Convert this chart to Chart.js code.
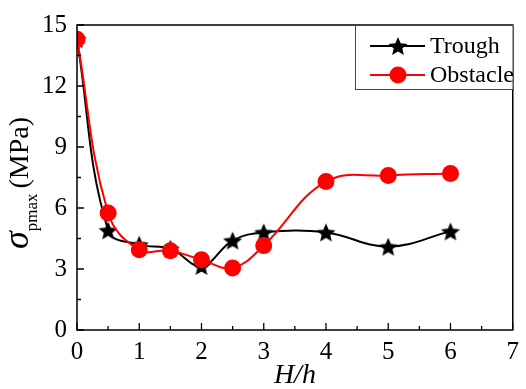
<!DOCTYPE html>
<html>
<head>
<meta charset="utf-8">
<script src="https://cdn.jsdelivr.net/npm/chart.js@4.4.0/dist/chart.umd.min.js"></script>
<style>
  html, body { margin: 0; padding: 0; background: #fff; }
  canvas { display: block; }
</style>
</head>
<body>
<canvas id="chart" width="526" height="389"></canvas>
<script>
// H/h values and sigma_pmax (MPa)
const hRatio = [0, 0.5, 1, 1.5, 2, 2.5, 3, 4, 5, 6];
const troughVals = [14.3, 4.9, 4.2, 4.0, 3.15, 4.4, 4.8, 4.8, 4.1, 4.85];
const obstacleVals = [14.3, 5.75, 3.95, 3.9, 3.45, 3.05, 4.15, 7.3, 7.6, 7.7];
const xTickVals = [0, 1, 2, 3, 4, 5, 6, 7];
const yTickVals = [0, 3, 6, 9, 12, 15];
const seriesNames = ['Trough', 'Obstacle'];

const SERIF = "'Liberation Serif', 'Times New Roman', serif";

function makeStar(size, color) {
    const c = document.createElement('canvas');
    c.width = size; c.height = size;
    const ctx = c.getContext('2d');
    const cx = size / 2, cy = size / 2 + size * 0.05;
    const outer = size / 2, inner = outer * 0.45;
    ctx.beginPath();
    for (let i = 0; i < 10; i++) {
        const r = i % 2 === 0 ? outer : inner;
        const a = -Math.PI / 2 + i * Math.PI / 5;
        ctx.lineTo(cx + r * Math.cos(a), cy + r * Math.sin(a));
    }
    ctx.closePath();
    ctx.fillStyle = color;
    ctx.fill();
    return c;
}
const star = makeStar(20, '#000');

const toPoints = (vals) => hRatio.map((x, i) => ({ x: x, y: vals[i] }));

// frame, inward ticks, axis titles and legend box
const decorations = {
    id: 'decorations',
    afterDraw(chart) {
        const { ctx, chartArea: a, scales } = chart;
        const xs = scales.x, ys = scales.y;
        ctx.save();
        ctx.strokeStyle = '#000';
        ctx.lineWidth = 1.5;
        ctx.strokeRect(a.left, a.top, a.right - a.left, a.bottom - a.top);

        ctx.lineWidth = 1.3;
        ctx.beginPath();
        for (let v = 0; v <= 7.001; v += 0.5) {
            const px = xs.getPixelForValue(v);
            const len = Number.isInteger(v) ? 7 : 4;
            ctx.moveTo(px, a.bottom);
            ctx.lineTo(px, a.bottom - len);
        }
        for (let v = 0; v <= 15.001; v += 1.5) {
            const py = ys.getPixelForValue(v);
            const len = Math.abs(v % 3) < 0.01 ? 7 : 4;
            ctx.moveTo(a.left, py);
            ctx.lineTo(a.left + len, py);
        }
        ctx.stroke();

        // x title
        ctx.fillStyle = '#000';
        ctx.textAlign = 'center';
        ctx.textBaseline = 'alphabetic';
        ctx.font = 'italic 28px ' + SERIF;
        ctx.fillText('H/h', (a.left + a.right) / 2, 383);

        // y title: sigma_pmax (MPa), rotated
        ctx.save();
        ctx.translate(28, 249);
        ctx.rotate(-Math.PI / 2);
        ctx.textAlign = 'left';
        ctx.font = 'italic 36px ' + SERIF;
        ctx.fillText('\u03c3', 0, 0);
        let w = ctx.measureText('\u03c3').width;
        ctx.font = '17px ' + SERIF;
        ctx.fillText('pmax', w, 9);
        w += ctx.measureText('pmax').width + 5;
        ctx.font = '28px ' + SERIF;
        ctx.fillText('(MPa)', w, 0);
        ctx.restore();

        // legend box
        const lx = 355, ly = a.top, lw = a.right - 355, lh = 64;
        ctx.fillStyle = '#fff';
        ctx.fillRect(lx, ly, lw, lh);
        ctx.strokeStyle = '#444';
        ctx.lineWidth = 1;
        ctx.strokeRect(lx + 0.5, ly + 0.5, lw, lh);
        const rows = [
            { name: seriesNames[0], color: '#000', y: ly + 21, marker: 'star' },
            { name: seriesNames[1], color: '#ff0000', y: ly + 50, marker: 'circle' }
        ];
        rows.forEach(r => {
            ctx.strokeStyle = r.color;
            ctx.lineWidth = 2;
            ctx.beginPath();
            ctx.moveTo(370, r.y);
            ctx.lineTo(425, r.y);
            ctx.stroke();
            if (r.marker === 'star') {
                ctx.drawImage(star, 398 - 10, r.y - 10);
            } else {
                ctx.fillStyle = r.color;
                ctx.beginPath();
                ctx.arc(398, r.y, 8.5, 0, Math.PI * 2);
                ctx.fill();
            }
            ctx.fillStyle = '#000';
            ctx.textAlign = 'left';
            ctx.textBaseline = 'middle';
            ctx.font = '24px ' + SERIF;
            ctx.fillText(r.name, 430, r.y + 1);
        });
        ctx.restore();
    }
};

new Chart(document.getElementById('chart'), {
    type: 'line',
    data: {
        datasets: [{
            label: seriesNames[0],
            data: toPoints(troughVals),
            borderColor: '#000',
            backgroundColor: '#000',
            borderWidth: 2,
            pointStyle: star,
            tension: 0.4,
            order: 2
        }, {
            label: seriesNames[1],
            data: toPoints(obstacleVals),
            borderColor: '#ff0000',
            backgroundColor: '#ff0000',
            borderWidth: 2,
            pointStyle: 'circle',
            pointRadius: 8.5,
            pointBorderWidth: 0,
            tension: 0.4,
            order: 1
        }]
    },
    options: {
        responsive: false,
        animation: false,
        devicePixelRatio: 1,
        layout: { padding: { top: 13, right: 7, left: 0, bottom: 0 } },
        plugins: { legend: { display: false }, tooltip: { enabled: false } },
        scales: {
            x: {
                type: 'linear',
                min: 0, max: 7,
                afterBuildTicks: (s) => { s.ticks = xTickVals.map(v => ({ value: v })); },
                afterFit: (s) => { s.height = 59; },
                grid: { display: false, drawTicks: false },
                border: { display: false },
                ticks: { color: '#000', font: { family: SERIF, size: 25 }, padding: 7 }
            },
            y: {
                min: 0, max: 15,
                afterBuildTicks: (s) => { s.ticks = yTickVals.map(v => ({ value: v })); },
                afterFit: (s) => { s.width = 77; },
                grid: { display: false, drawTicks: false },
                border: { display: false },
                ticks: { color: '#000', font: { family: SERIF, size: 25 }, padding: 10 }
            }
        }
    },
    plugins: [decorations]
});
</script>
</body>
</html>
